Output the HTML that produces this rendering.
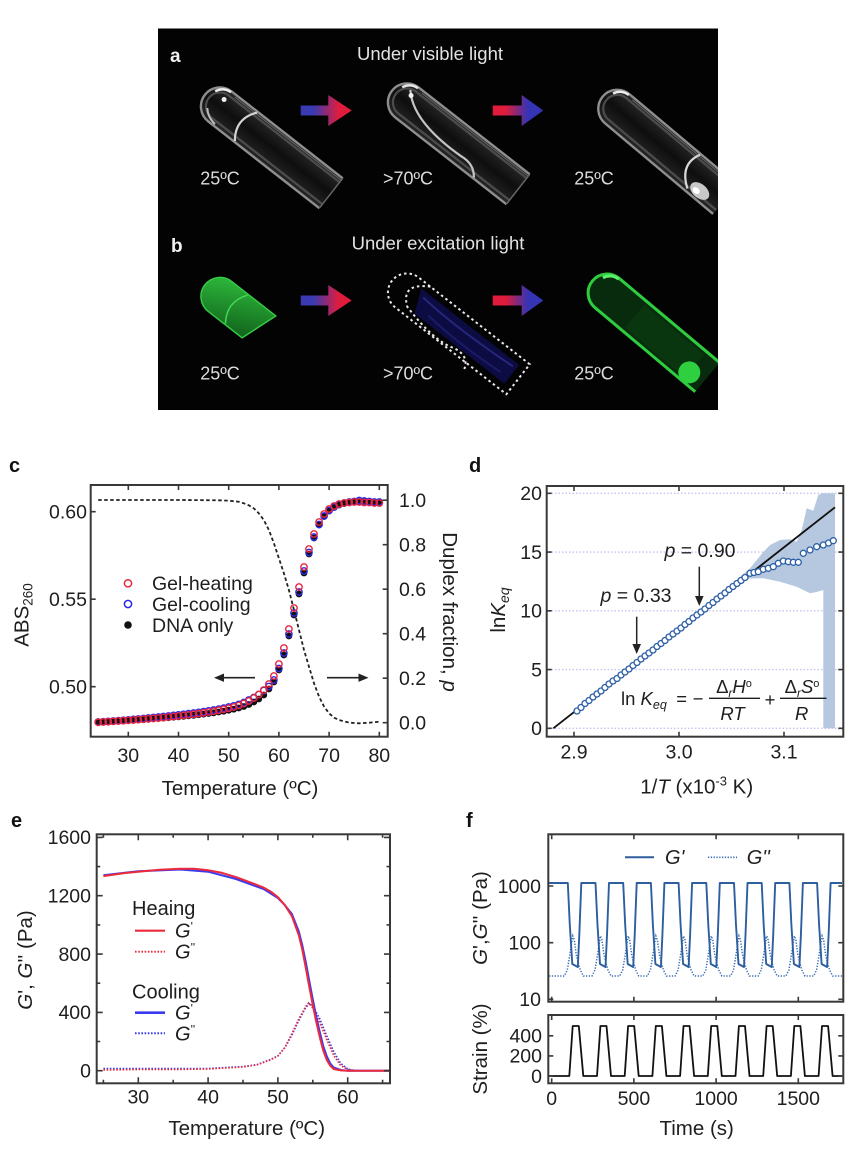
<!DOCTYPE html>
<html><head><meta charset="utf-8"><style>
html,body{margin:0;padding:0;background:#fff;}
svg{display:block;font-family:"Liberation Sans",Arial,sans-serif;}
</style></head><body>
<svg width="863" height="1157" viewBox="0 0 863 1157" xmlns="http://www.w3.org/2000/svg">
<defs>
<linearGradient id="br" x1="0" x2="1" y1="0" y2="0"><stop offset="0" stop-color="#3a3ab2"/><stop offset="0.25" stop-color="#3a3ab2"/><stop offset="0.75" stop-color="#e01c3c"/><stop offset="1" stop-color="#e01c3c"/></linearGradient>
<linearGradient id="rb" x1="0" x2="1" y1="0" y2="0"><stop offset="0" stop-color="#e01c3c"/><stop offset="0.25" stop-color="#e01c3c"/><stop offset="0.7" stop-color="#3434b4"/><stop offset="1" stop-color="#3434b4"/></linearGradient>
<linearGradient id="grn" x1="0" x2="1" y1="0" y2="1"><stop offset="0" stop-color="#2fbf3e"/><stop offset="1" stop-color="#0f5a18"/></linearGradient>
<linearGradient id="glass" x1="0" x2="0" y1="0" y2="1"><stop offset="0" stop-color="#2a2a2a"/><stop offset="0.5" stop-color="#0e0e0e"/><stop offset="1" stop-color="#262626"/></linearGradient>
<clipPath id="box"><rect x="158" y="28.5" width="560" height="381.5"/></clipPath>
</defs>

<!-- ========== Photo panel ========== -->
<rect x="158" y="28.5" width="560" height="381.5" fill="#030303"/>
<text x="170" y="62" font-size="19" font-weight="bold" fill="#f0f0f0">a</text>
<text x="430" y="60" font-size="18.5" fill="#e2e2e2" text-anchor="middle">Under visible light</text>
<text x="171" y="252" font-size="19" font-weight="bold" fill="#f0f0f0">b</text>
<text x="438" y="249.5" font-size="18.5" fill="#e2e2e2" text-anchor="middle">Under excitation light</text>

<g clip-path="url(#box)">
<!-- tube a1 -->
<g transform="translate(268,144) rotate(38)">
<path d="M80,-19H-61A19,19 0 0,0 -61,19H80" fill="url(#glass)" stroke="#8e8e8e" stroke-width="2.4"/>
<path d="M80,-14H-61A14,14 0 0,0 -61,14H80" fill="none" stroke="#4c4c4c" stroke-width="2.2"/>
<path d="M80,-16.5H-55" stroke="#6a6a6a" stroke-width="1"/>
<path d="M-28,-18Q-42,0 -28,18" fill="none" stroke="#d4d4d4" stroke-width="2.2"/>
<path d="M-74,-9A14,14 0 0,1 -61,-18" fill="none" stroke="#eee" stroke-width="2.5"/>
<circle cx="-62" cy="-8" r="2.5" fill="#eee"/>
<path d="M-70,9Q-64,16 -54,17" fill="none" stroke="#bbb" stroke-width="2"/>
<line x1="80" y1="-19" x2="80" y2="19" stroke="#666" stroke-width="1.5"/>
</g>
<!-- tube a2 -->
<g transform="translate(455,140) rotate(38)">
<path d="M80,-19H-61A19,19 0 0,0 -61,19H80" fill="url(#glass)" stroke="#8e8e8e" stroke-width="2.4"/>
<path d="M80,-14H-61A14,14 0 0,0 -61,14H80" fill="none" stroke="#4c4c4c" stroke-width="2.2"/>
<path d="M80,-16.5H-55" stroke="#6a6a6a" stroke-width="1"/>
<path d="M-66,-12Q-45,12 15,9Q30,7 38,18" fill="none" stroke="#c4c4c4" stroke-width="2.2"/>
<path d="M-74,-9A14,14 0 0,1 -61,-18" fill="none" stroke="#e6e6e6" stroke-width="2.5"/>
<circle cx="-62" cy="-8" r="2.5" fill="#eee"/>
<line x1="80" y1="-19" x2="80" y2="19" stroke="#666" stroke-width="1.5"/>
</g>
<!-- tube a3 -->
<g transform="translate(664,148) rotate(40)">
<path d="M80,-19H-61A19,19 0 0,0 -61,19H80" fill="url(#glass)" stroke="#8e8e8e" stroke-width="2.4"/>
<path d="M80,-14H-61A14,14 0 0,0 -61,14H80" fill="none" stroke="#4c4c4c" stroke-width="2.2"/>
<path d="M80,-16.5H-55" stroke="#6a6a6a" stroke-width="1"/>
<path d="M-74,-9A14,14 0 0,1 -61,-18" fill="none" stroke="#eee" stroke-width="2.5"/>
<path d="M32,-18Q22,2 44,16" fill="none" stroke="#d8d8d8" stroke-width="2.2"/>
<ellipse cx="55" cy="10" rx="11" ry="7" fill="#c8c8c8"/>
<ellipse cx="52" cy="12" rx="4" ry="3" fill="#fff"/>
</g>

<!-- tube b1 green cap -->
<g transform="translate(268,334) rotate(38)">
<path d="M-5,-19H-61A19,19 0 0,0 -61,19H-18Z" fill="url(#grn)" stroke="#35c944" stroke-width="1.5"/>
<path d="M-40,-18Q-53,0 -40,18" fill="none" stroke="#45d855" stroke-width="1.5"/>
</g>
<!-- tube b2 blue dashed -->
<g transform="translate(455,330) rotate(38)">
<path d="M-52,-12H72V12H-42Z" fill="#0c0c42"/>
<path d="M-45,-6Q0,-2 68,-7" fill="none" stroke="#26267e" stroke-width="2"/>
<path d="M-30,5Q10,9 62,5" fill="none" stroke="#1a1a66" stroke-width="2"/>
<path d="M80,-19H-61A19,19 0 0,0 -61,19H80Z" fill="none" stroke="#e8e8e8" stroke-width="2" stroke-dasharray="2.5 3"/>
<path d="M-46,-19Q-72,-4 -52,11Q-10,22 10,15Q28,11 32,27" fill="none" stroke="#e8e8e8" stroke-width="2" stroke-dasharray="2.5 3"/>
</g>
<!-- tube b3 green -->
<g transform="translate(650,329) rotate(40)">
<path d="M75,-19H-56A19,19 0 0,0 -56,19H75" fill="#072b0c" stroke="#2fcc3f" stroke-width="3"/>
<path d="M-20,-15H58V15H-20Z" fill="#0b3c11" opacity="0.7"/>
<ellipse cx="58" cy="8" rx="11" ry="11" fill="#2fd03f"/>
<path d="M-69,-9A14,14 0 0,1 -56,-18" fill="none" stroke="#5ef06c" stroke-width="3"/>
</g>
</g>

<g font-size="18" fill="#dcdcdc" text-anchor="middle">
<text x="220" y="184.5">25ºC</text><text x="408" y="184.5">&gt;70ºC</text><text x="594" y="184.5">25ºC</text>
<text x="220" y="379.5">25ºC</text><text x="408" y="379.5">&gt;70ºC</text><text x="594" y="379.5">25ºC</text>
</g>

<!-- arrows -->
<path d="M300.7,105.5H328.3V95L351.7,110.5L328.3,126V115.5H300.7Z" fill="url(#br)"/>
<path d="M492.7,105.5H521.7V95L543.3,110.5L521.7,126V115.5H492.7Z" fill="url(#rb)"/>
<path d="M300.7,295.5H328.3V285L351.7,300.5L328.3,316V305.5H300.7Z" fill="url(#br)"/>
<path d="M492.7,295.5H521.7V285L543.3,300.5L521.7,316V305.5H492.7Z" fill="url(#rb)"/>

<!-- ========== Panel c ========== -->
<text x="9" y="472" font-size="20" font-weight="bold" fill="#111">c</text>
<polyline fill="none" stroke="#222" stroke-width="1.8" stroke-dasharray="3.5 2.5" points="98.2,500 128.3,500 178.5,500 218.7,500.3 228.7,500.7 238.7,501.7 243.8,503.3 248.8,505.3 253.8,508.3 258.8,513.3 263.8,520 268.9,530 273.9,543.3 278.9,558.3 283.9,573.3 288.9,590 294,610 299,630 304,650 309,666.7 314,683.3 319.1,696.7 324.1,706.7 329.1,713.3 334.1,717.7 339.1,720 349.2,722.7 359.2,723.3 369.3,722.7 379.3,721.7"/>
<g fill="#111">
<circle cx="98.2" cy="722.5" r="3.4"/><circle cx="103.2" cy="722.2" r="3.4"/><circle cx="108.2" cy="721.9" r="3.4"/><circle cx="113.2" cy="721.6" r="3.4"/><circle cx="118.3" cy="721.3" r="3.4"/><circle cx="123.3" cy="721" r="3.4"/><circle cx="128.3" cy="720.7" r="3.4"/><circle cx="133.3" cy="720.4" r="3.4"/><circle cx="138.3" cy="720" r="3.4"/><circle cx="143.4" cy="719.7" r="3.4"/>
<circle cx="148.4" cy="719.3" r="3.4"/><circle cx="153.4" cy="718.9" r="3.4"/><circle cx="158.4" cy="718.5" r="3.4"/><circle cx="163.4" cy="718.1" r="3.4"/><circle cx="168.5" cy="717.7" r="3.4"/><circle cx="173.5" cy="717.2" r="3.4"/><circle cx="178.5" cy="716.8" r="3.4"/><circle cx="183.5" cy="716.3" r="3.4"/><circle cx="188.5" cy="715.8" r="3.4"/><circle cx="193.6" cy="715.3" r="3.4"/>
<circle cx="198.6" cy="714.7" r="3.4"/><circle cx="203.6" cy="714.1" r="3.4"/><circle cx="208.6" cy="713.5" r="3.4"/><circle cx="213.6" cy="712.8" r="3.4"/><circle cx="218.7" cy="712" r="3.4"/><circle cx="223.7" cy="711.2" r="3.4"/><circle cx="228.7" cy="710.2" r="3.4"/><circle cx="233.7" cy="709.2" r="3.4"/><circle cx="238.7" cy="708" r="3.4"/><circle cx="243.8" cy="706.5" r="3.4"/>
<circle cx="248.8" cy="704.5" r="3.4"/><circle cx="253.8" cy="702" r="3.4"/><circle cx="258.8" cy="699" r="3.4"/><circle cx="263.8" cy="695" r="3.4"/><circle cx="268.9" cy="689" r="3.4"/><circle cx="273.9" cy="682" r="3.4"/><circle cx="278.9" cy="670" r="3.4"/><circle cx="283.9" cy="655" r="3.4"/><circle cx="288.9" cy="636" r="3.4"/><circle cx="294" cy="615" r="3.4"/>
<circle cx="299" cy="594" r="3.4"/><circle cx="304" cy="573" r="3.4"/><circle cx="309" cy="554" r="3.4"/><circle cx="314" cy="538" r="3.4"/><circle cx="319.1" cy="525" r="3.4"/><circle cx="324.1" cy="516.5" r="3.4"/><circle cx="329.1" cy="511" r="3.4"/><circle cx="334.1" cy="507.5" r="3.4"/><circle cx="339.1" cy="505" r="3.4"/><circle cx="344.2" cy="503.5" r="3.4"/>
<circle cx="349.2" cy="502.5" r="3.4"/><circle cx="354.2" cy="502" r="3.4"/><circle cx="359.2" cy="501.5" r="3.4"/><circle cx="364.2" cy="501.5" r="3.4"/><circle cx="369.3" cy="502" r="3.4"/><circle cx="374.3" cy="502" r="3.4"/><circle cx="379.3" cy="502" r="3.4"/>
</g>
<g fill="none" stroke="#2a2ae6" stroke-width="1.3">
<circle cx="98.2" cy="722" r="3.2"/><circle cx="103.2" cy="721.7" r="3.2"/><circle cx="108.2" cy="721.3" r="3.2"/><circle cx="113.2" cy="721" r="3.2"/><circle cx="118.3" cy="720.6" r="3.2"/><circle cx="123.3" cy="720.2" r="3.2"/><circle cx="128.3" cy="719.8" r="3.2"/><circle cx="133.3" cy="719.4" r="3.2"/><circle cx="138.3" cy="719" r="3.2"/><circle cx="143.4" cy="718.5" r="3.2"/>
<circle cx="148.4" cy="718" r="3.2"/><circle cx="153.4" cy="717.5" r="3.2"/><circle cx="158.4" cy="717" r="3.2"/><circle cx="163.4" cy="716.5" r="3.2"/><circle cx="168.5" cy="716" r="3.2"/><circle cx="173.5" cy="715.4" r="3.2"/><circle cx="178.5" cy="714.8" r="3.2"/><circle cx="183.5" cy="714.2" r="3.2"/><circle cx="188.5" cy="713.6" r="3.2"/><circle cx="193.6" cy="713" r="3.2"/>
<circle cx="198.6" cy="712.3" r="3.2"/><circle cx="203.6" cy="711.6" r="3.2"/><circle cx="208.6" cy="710.8" r="3.2"/><circle cx="213.6" cy="710" r="3.2"/><circle cx="218.7" cy="709.1" r="3.2"/><circle cx="223.7" cy="708.1" r="3.2"/><circle cx="228.7" cy="707" r="3.2"/><circle cx="233.7" cy="705.8" r="3.2"/><circle cx="238.7" cy="704.3" r="3.2"/><circle cx="243.8" cy="702.5" r="3.2"/>
<circle cx="248.8" cy="700" r="3.2"/><circle cx="253.8" cy="697.5" r="3.2"/><circle cx="258.8" cy="694.5" r="3.2"/><circle cx="263.8" cy="690.5" r="3.2"/><circle cx="268.9" cy="686.5" r="3.2"/><circle cx="273.9" cy="680" r="3.2"/><circle cx="278.9" cy="668.5" r="3.2"/><circle cx="283.9" cy="653" r="3.2"/><circle cx="288.9" cy="634" r="3.2"/><circle cx="294" cy="613" r="3.2"/>
<circle cx="299" cy="592" r="3.2"/><circle cx="304" cy="571" r="3.2"/><circle cx="309" cy="552.5" r="3.2"/><circle cx="314" cy="537" r="3.2"/><circle cx="319.1" cy="524.5" r="3.2"/><circle cx="324.1" cy="516" r="3.2"/><circle cx="329.1" cy="510.5" r="3.2"/><circle cx="334.1" cy="507" r="3.2"/><circle cx="339.1" cy="504.5" r="3.2"/><circle cx="344.2" cy="503" r="3.2"/>
<circle cx="349.2" cy="502" r="3.2"/><circle cx="354.2" cy="501.5" r="3.2"/><circle cx="359.2" cy="500.5" r="3.2"/><circle cx="364.2" cy="501" r="3.2"/><circle cx="369.3" cy="501.5" r="3.2"/><circle cx="374.3" cy="502" r="3.2"/><circle cx="379.3" cy="502" r="3.2"/>
</g>
<g fill="none" stroke="#e8243c" stroke-width="1.4">
<circle cx="98.2" cy="722.3" r="3.2"/><circle cx="103.2" cy="722" r="3.2"/><circle cx="108.2" cy="721.7" r="3.2"/><circle cx="113.2" cy="721.4" r="3.2"/><circle cx="118.3" cy="721" r="3.2"/><circle cx="123.3" cy="720.7" r="3.2"/><circle cx="128.3" cy="720.3" r="3.2"/><circle cx="133.3" cy="720" r="3.2"/><circle cx="138.3" cy="719.6" r="3.2"/><circle cx="143.4" cy="719.2" r="3.2"/>
<circle cx="148.4" cy="718.8" r="3.2"/><circle cx="153.4" cy="718.4" r="3.2"/><circle cx="158.4" cy="718" r="3.2"/><circle cx="163.4" cy="717.5" r="3.2"/><circle cx="168.5" cy="717" r="3.2"/><circle cx="173.5" cy="716.5" r="3.2"/><circle cx="178.5" cy="716" r="3.2"/><circle cx="183.5" cy="715.4" r="3.2"/><circle cx="188.5" cy="714.8" r="3.2"/><circle cx="193.6" cy="714.2" r="3.2"/>
<circle cx="198.6" cy="713.5" r="3.2"/><circle cx="203.6" cy="712.8" r="3.2"/><circle cx="208.6" cy="712" r="3.2"/><circle cx="213.6" cy="711.2" r="3.2"/><circle cx="218.7" cy="710.3" r="3.2"/><circle cx="223.7" cy="709.3" r="3.2"/><circle cx="228.7" cy="708.2" r="3.2"/><circle cx="233.7" cy="707" r="3.2"/><circle cx="238.7" cy="705.5" r="3.2"/><circle cx="243.8" cy="703.5" r="3.2"/>
<circle cx="248.8" cy="701" r="3.2"/><circle cx="253.8" cy="698" r="3.2"/><circle cx="258.8" cy="694.5" r="3.2"/><circle cx="263.8" cy="690" r="3.2"/><circle cx="268.9" cy="684" r="3.2"/><circle cx="273.9" cy="676" r="3.2"/><circle cx="278.9" cy="664" r="3.2"/><circle cx="283.9" cy="648" r="3.2"/><circle cx="288.9" cy="629" r="3.2"/><circle cx="294" cy="608" r="3.2"/>
<circle cx="299" cy="587" r="3.2"/><circle cx="304" cy="567" r="3.2"/><circle cx="309" cy="549" r="3.2"/><circle cx="314" cy="534" r="3.2"/><circle cx="319.1" cy="522" r="3.2"/><circle cx="324.1" cy="514" r="3.2"/><circle cx="329.1" cy="509" r="3.2"/><circle cx="334.1" cy="506" r="3.2"/><circle cx="339.1" cy="504" r="3.2"/><circle cx="344.2" cy="503" r="3.2"/>
<circle cx="349.2" cy="502.5" r="3.2"/><circle cx="354.2" cy="502" r="3.2"/><circle cx="359.2" cy="502" r="3.2"/><circle cx="364.2" cy="502.5" r="3.2"/><circle cx="369.3" cy="502.5" r="3.2"/><circle cx="374.3" cy="503" r="3.2"/><circle cx="379.3" cy="503" r="3.2"/>
</g>
<!-- legend c -->
<circle cx="128" cy="583.3" r="3.6" fill="none" stroke="#e8243c" stroke-width="1.5"/>
<circle cx="128" cy="604" r="3.6" fill="none" stroke="#2a2ae6" stroke-width="1.5"/>
<circle cx="128" cy="625" r="3.8" fill="#111"/>
<g font-size="19.5" fill="#1e1e1e">
<text x="152" y="590">Gel-heating</text><text x="152" y="611">Gel-cooling</text><text x="152" y="632">DNA only</text>
</g>
<!-- arrows c -->
<line x1="255" y1="677.7" x2="222" y2="677.7" stroke="#222" stroke-width="1.6"/>
<polygon points="214,677.7 224,673.5 224,681.9" fill="#222"/>
<line x1="327" y1="677.7" x2="360" y2="677.7" stroke="#222" stroke-width="1.6"/>
<polygon points="368.5,677.7 358.5,673.5 358.5,681.9" fill="#222"/>
<!-- frame c -->
<rect x="90.7" y="485" width="297" height="251.7" fill="none" stroke="#383838" stroke-width="2"/>
<g stroke="#383838" stroke-width="1.6">
<path d="M128.3,736.7v-5M178.5,736.7v-5M228.7,736.7v-5M278.9,736.7v-5M329.1,736.7v-5M379.3,736.7v-5"/>
<path d="M128.3,485v5M178.5,485v5M228.7,485v5M278.9,485v5M329.1,485v5M379.3,485v5"/>
<path d="M90.7,511.7h5M90.7,599.2h5M90.7,686.7h5"/>
<path d="M387.7,722.7h-5M387.7,678.2h-5M387.7,633.7h-5M387.7,589.2h-5M387.7,544.7h-5M387.7,500.2h-5"/>
</g>
<g font-size="19.5" fill="#1e1e1e">
<g text-anchor="end"><text x="87" y="518.5">0.60</text><text x="87" y="606">0.55</text><text x="87" y="693.5">0.50</text></g>
<text x="399" y="507">1.0</text><text x="399" y="551.5">0.8</text><text x="399" y="596">0.6</text><text x="399" y="640.5">0.4</text><text x="399" y="685">0.2</text><text x="399" y="729.5">0.0</text>
<g text-anchor="middle"><text x="128.3" y="762">30</text><text x="178.5" y="762">40</text><text x="228.7" y="762">50</text><text x="278.9" y="762">60</text><text x="329.1" y="762">70</text><text x="379.3" y="762">80</text></g>
</g>
<text x="240" y="795" font-size="20.5" fill="#1e1e1e" text-anchor="middle">Temperature (ºC)</text>
<text x="28.7" y="615" font-size="20.5" fill="#1e1e1e" text-anchor="middle" transform="rotate(-90 28.7 615)">ABS<tspan font-size="13.5" dy="4">260</tspan></text>

<!-- ========== Panel d ========== -->
<text x="469" y="472" font-size="20" font-weight="bold" fill="#111">d</text>
<g stroke="#c4c4f0" stroke-width="1.3" stroke-dasharray="1.5 2">
<path d="M548,728.3H842M548,669.55H842M548,610.8H842M548,552.05H842M548,493.3H842"/>
</g>
<polygon fill="#b6c8e0" points="700,611.5 720,595.5 740,577 750,568.3 763.3,552 770,545 780,540 790,539.3 796.7,541.7 801.7,530 806.7,508.3 813.3,510.7 818.3,495 821.7,493.3 835,493.3 835,728.3 823.3,728.3 823.3,590 816.7,592 810,593.3 796.7,586.7 780,581.7 763.3,578.3 750,578.5 740,582 720,599 700,614.5"/>
<line x1="553.3" y1="728.3" x2="835" y2="507.3" stroke="#111" stroke-width="1.8"/>
<g fill="#fff" stroke="#2b5ea5" stroke-width="1.3">
<circle cx="577" cy="711" r="3"/><circle cx="581" cy="707.5" r="3"/><circle cx="585" cy="703.5" r="3"/><circle cx="589" cy="700.5" r="3"/><circle cx="593" cy="697" r="3"/><circle cx="597" cy="694" r="3"/><circle cx="601" cy="691" r="3"/><circle cx="605" cy="687.5" r="3"/><circle cx="609" cy="684" r="3"/><circle cx="613" cy="681" r="3"/>
<circle cx="617" cy="678.5" r="3"/><circle cx="621" cy="675" r="3"/><circle cx="625" cy="672" r="3"/><circle cx="629" cy="669" r="3"/><circle cx="633" cy="665.5" r="3"/><circle cx="637" cy="662.5" r="3"/><circle cx="641" cy="659" r="3"/><circle cx="645" cy="656" r="3"/><circle cx="649" cy="653" r="3"/><circle cx="653" cy="650" r="3"/>
<circle cx="657" cy="646.5" r="3"/><circle cx="661" cy="643.5" r="3"/><circle cx="665" cy="640.5" r="3"/><circle cx="669" cy="637" r="3"/><circle cx="673" cy="634" r="3"/><circle cx="677" cy="631" r="3"/><circle cx="681" cy="628" r="3"/><circle cx="685" cy="624.5" r="3"/><circle cx="689" cy="621.5" r="3"/><circle cx="693" cy="618" r="3"/>
<circle cx="697" cy="615" r="3"/><circle cx="701" cy="612" r="3"/><circle cx="705" cy="609" r="3"/><circle cx="709" cy="605.5" r="3"/><circle cx="713" cy="602.5" r="3"/><circle cx="717" cy="599" r="3"/><circle cx="721" cy="596" r="3"/><circle cx="725" cy="593" r="3"/><circle cx="729" cy="589.5" r="3"/><circle cx="733" cy="586.5" r="3"/>
<circle cx="737" cy="583.5" r="3"/><circle cx="741" cy="580.5" r="3"/><circle cx="745" cy="577.5" r="3"/><circle cx="750" cy="573.3" r="3"/><circle cx="754" cy="572.5" r="3"/><circle cx="758.3" cy="571.7" r="3"/><circle cx="763.3" cy="569.3" r="3"/><circle cx="768.3" cy="568.3" r="3"/><circle cx="773.3" cy="566.7" r="3"/><circle cx="778.3" cy="563.3" r="3"/>
<circle cx="783.3" cy="561" r="3"/><circle cx="788.3" cy="561.7" r="3"/><circle cx="793.3" cy="562.3" r="3"/><circle cx="798.3" cy="562.3" r="3"/><circle cx="803.3" cy="553.3" r="3"/><circle cx="810" cy="550" r="3"/><circle cx="816.7" cy="546.7" r="3"/><circle cx="823.3" cy="545" r="3"/><circle cx="828.5" cy="543" r="3"/><circle cx="833.3" cy="540.7" r="3"/>
</g>
<!-- annotations d -->
<g font-size="19.5" fill="#1e1e1e" text-anchor="middle">
<text x="700" y="557"><tspan font-style="italic">p</tspan> = 0.90</text>
<text x="636" y="602"><tspan font-style="italic">p</tspan> = 0.33</text>
</g>
<line x1="699.3" y1="566.7" x2="699.3" y2="598" stroke="#222" stroke-width="1.5"/>
<polygon points="699.3,606 695,596 703.6,596" fill="#222"/>
<line x1="636.7" y1="616.7" x2="636.7" y2="645" stroke="#222" stroke-width="1.5"/>
<polygon points="636.7,654 632.4,644 641,644" fill="#222"/>
<!-- equation -->
<g font-size="18.5" fill="#1e1e1e">
<text x="621" y="705">ln <tspan font-style="italic">K</tspan><tspan font-style="italic" font-size="12.5" dy="4">eq</tspan></text>
<text x="681.7" y="705" text-anchor="middle">=</text>
<text x="698" y="705" text-anchor="middle">−</text>
<text x="734" y="693" text-anchor="middle">Δ<tspan font-style="italic" font-size="12" dy="4">r</tspan><tspan font-style="italic" dy="-4">H</tspan><tspan font-size="11" dy="-6">o</tspan></text>
<text x="732.5" y="720" text-anchor="middle" font-style="italic">RT</text>
<text x="770" y="706" text-anchor="middle">+</text>
<text x="802" y="693" text-anchor="middle">Δ<tspan font-style="italic" font-size="12" dy="4">r</tspan><tspan font-style="italic" dy="-4">S</tspan><tspan font-size="11" dy="-6">o</tspan></text>
<text x="801.7" y="720" text-anchor="middle" font-style="italic">R</text>
</g>
<line x1="709" y1="698.3" x2="760" y2="698.3" stroke="#1e1e1e" stroke-width="1.3"/>
<line x1="780" y1="698.3" x2="826.5" y2="698.3" stroke="#1e1e1e" stroke-width="1.3"/>
<!-- frame d -->
<rect x="546.7" y="486" width="296.6" height="250.7" fill="none" stroke="#383838" stroke-width="2"/>
<g stroke="#383838" stroke-width="1.6">
<path d="M574,736.7v-5M679,736.7v-5M784,736.7v-5M574,486v5M679,486v5M784,486v5"/>
<path d="M546.7,728.3h5M546.7,669.55h5M546.7,610.8h5M546.7,552.05h5M546.7,493.3h5"/>
<path d="M843.3,728.3h-5M843.3,669.55h-5M843.3,610.8h-5M843.3,552.05h-5M843.3,493.3h-5"/>
</g>
<g font-size="19.5" fill="#1e1e1e">
<g text-anchor="end"><text x="542" y="500">20</text><text x="542" y="558.9">15</text><text x="542" y="617.6">10</text><text x="542" y="676.4">5</text><text x="542" y="735.1">0</text></g>
<g text-anchor="middle"><text x="574" y="758.5">2.9</text><text x="679" y="758.5">3.0</text><text x="784" y="758.5">3.1</text></g>
</g>
<text x="696.7" y="793.5" font-size="20.5" fill="#1e1e1e" text-anchor="middle">1/<tspan font-style="italic">T</tspan> (x10<tspan font-size="13" dy="-8">-3</tspan><tspan dy="8"> K)</tspan></text>
<text x="505" y="610" font-size="20.5" fill="#1e1e1e" text-anchor="middle" transform="rotate(-90 505 610)">ln<tspan font-style="italic">K</tspan><tspan font-style="italic" font-size="14" dy="4">eq</tspan></text>
<text x="443" y="612" font-size="20.5" fill="#1e1e1e" text-anchor="middle" transform="rotate(90 443 612)">Duplex fraction, <tspan font-style="italic">p</tspan></text>

<!-- ========== Panel e ========== -->
<text x="11" y="827" font-size="20" font-weight="bold" fill="#111">e</text>
<g fill="none" stroke-width="1.6" stroke-dasharray="1.6 1.6">
<polyline stroke="#3a3af0" points="103.4,1068.5 138.3,1068.5 208.1,1068.5 243,1066.6 257,1064.6 270.9,1059.3 277.9,1055.8 284.9,1047.7 291.9,1035 298.8,1020.4 305.8,1007.3 310,1003.3 312.8,1005.8 319.8,1018.9 326.7,1035.7 333.7,1051.7 340.7,1063.4 347.7,1069 354.6,1070.4 361.6,1070.7 389.6,1070.7"/>
<polyline stroke="#ec2a3c" points="103.4,1070 138.3,1069.5 173.2,1069.5 208.1,1069 243,1067 257,1064.9 270.9,1059.8 277.9,1056.1 284.9,1047.4 291.9,1033.5 298.8,1018.9 305.8,1006.5 308.6,1002.9 312.8,1008 319.8,1022.6 326.7,1039.4 333.7,1055.4 340.7,1065.6 347.7,1069.5 354.6,1070.7 389.6,1070.7"/>
</g>
<polyline fill="none" stroke="#3a3af0" stroke-width="2" stroke-linejoin="round" points="103.4,875.3 138.3,871.2 180.2,869.5 208.1,871.7 236,879 263.9,889.2 277.9,898 284.9,905.2 291.9,914 298.8,931.5 302.3,945.3 305.8,962.1 309.3,981 312.8,999.3 316.3,1016.8 319.8,1032.1 323.2,1045.9 326.7,1056.1 330.2,1063.4 333.7,1067.5 340.7,1070 347.7,1070.7 389.6,1070.7"/>
<polyline fill="none" stroke="#ec2a3c" stroke-width="2" stroke-linejoin="round" points="103.4,876.1 124.3,873.1 138.3,871.7 159.2,869.8 180.2,868.8 194.1,868.8 208.1,870.2 222.1,872.9 236,877.1 250,882.3 263.9,887.7 270.9,891.7 277.9,897.2 284.9,905.2 291.9,916.2 298.8,935.1 302.3,949.7 305.8,967.9 309.3,986.9 312.8,1005.1 316.3,1021.9 319.8,1037.2 323.2,1050.3 326.7,1059.8 330.2,1065.6 333.7,1069 340.7,1070.4 347.7,1070.7 389.6,1070.7"/>
<!-- legend e -->
<g font-size="20" fill="#1e1e1e">
<text x="132" y="915">Heaing</text>
<text x="132" y="998.7">Cooling</text>
<text x="175" y="937.7" font-style="italic">G<tspan font-size="12" dy="-7" font-style="normal">'</tspan></text>
<text x="175" y="958.7" font-style="italic">G<tspan font-size="12" dy="-7" font-style="normal">''</tspan></text>
<text x="175" y="1019.7" font-style="italic">G<tspan font-size="12" dy="-7" font-style="normal">'</tspan></text>
<text x="175" y="1040.3" font-style="italic">G<tspan font-size="12" dy="-7" font-style="normal">''</tspan></text>
</g>
<line x1="135" y1="930.7" x2="165" y2="930.7" stroke="#ec2a3c" stroke-width="2.2"/>
<line x1="135" y1="951.7" x2="165" y2="951.7" stroke="#ec2a3c" stroke-width="1.8" stroke-dasharray="1.6 1.6"/>
<line x1="135" y1="1012.7" x2="165" y2="1012.7" stroke="#3a3af0" stroke-width="2.6"/>
<line x1="135" y1="1033.3" x2="165" y2="1033.3" stroke="#3a3af0" stroke-width="2" stroke-dasharray="1.6 1.6"/>
<!-- frame e -->
<rect x="96.7" y="834.3" width="293.3" height="249" fill="none" stroke="#383838" stroke-width="2"/>
<g stroke="#383838" stroke-width="1.6">
<path d="M138.3,1083.3v-6M208.1,1083.3v-6M277.9,1083.3v-6M347.7,1083.3v-6M103.4,1083.3v-3.5M173.2,1083.3v-3.5M243,1083.3v-3.5M312.8,1083.3v-3.5M382.6,1083.3v-3.5"/>
<path d="M138.3,834.3v6M208.1,834.3v6M277.9,834.3v6M347.7,834.3v6M103.4,834.3v3.5M173.2,834.3v3.5M243,834.3v3.5M312.8,834.3v3.5M382.6,834.3v3.5"/>
<path d="M96.7,1070.7h6M96.7,1012.4h6M96.7,954.1h6M96.7,895.7h6M96.7,837.4h6M96.7,1041.5h3.5M96.7,983.2h3.5M96.7,924.9h3.5M96.7,866.6h3.5"/>
<path d="M390,1070.7h-6M390,1012.4h-6M390,954.1h-6M390,895.7h-6M390,837.4h-6M390,1041.5h-3.5M390,983.2h-3.5M390,924.9h-3.5M390,866.6h-3.5"/>
</g>
<g font-size="19.5" fill="#1e1e1e">
<g text-anchor="end"><text x="91" y="844.2">1600</text><text x="91" y="902.5">1200</text><text x="91" y="960.9">800</text><text x="91" y="1019.2">400</text><text x="91" y="1077.5">0</text></g>
<g text-anchor="middle"><text x="138.3" y="1103.5">30</text><text x="208.1" y="1103.5">40</text><text x="277.9" y="1103.5">50</text><text x="347.7" y="1103.5">60</text></g>
</g>
<text x="246.7" y="1135" font-size="20.5" fill="#1e1e1e" text-anchor="middle">Temperature (ºC)</text>
<text x="32" y="960" font-size="20.5" fill="#1e1e1e" text-anchor="middle" transform="rotate(-90 32 960)"><tspan font-style="italic">G</tspan>', <tspan font-style="italic">G</tspan>'' (Pa)</text>

<!-- ========== Panel f ========== -->
<text x="466" y="827" font-size="20" font-weight="bold" fill="#111">f</text>
<polyline fill="none" stroke="#3c6eb2" stroke-width="1.5" stroke-dasharray="1.3 1.5" points="549,976 564.3,976 567.3,970 569.3,958 571.3,945 572.8,936 574.3,940 576.3,955 578.3,963 580.3,970 583.3,976 592,976 595,970 597,958 599,945 600.5,936 602,940 604,955 606,963 608,970 611,976 619.7,976 622.7,970 624.7,958 626.7,945 628.2,936 629.7,940 631.7,955 633.7,963 635.7,970 638.7,976 647.4,976 650.4,970 652.4,958 654.4,945 655.9,936 657.4,940 659.4,955 661.4,963 663.4,970 666.4,976 675.1,976 678.1,970 680.1,958 682.1,945 683.6,936 685.1,940 687.1,955 689.1,963 691.1,970 694.1,976 702.8,976 705.8,970 707.8,958 709.8,945 711.3,936 712.8,940 714.8,955 716.8,963 718.8,970 721.8,976 730.5,976 733.5,970 735.5,958 737.5,945 739,936 740.5,940 742.5,955 744.5,963 746.5,970 749.5,976 758.2,976 761.2,970 763.2,958 765.2,945 766.7,936 768.2,940 770.2,955 772.2,963 774.2,970 777.2,976 785.9,976 788.9,970 790.9,958 792.9,945 794.4,936 795.9,940 797.9,955 799.9,963 801.9,970 804.9,976 813.6,976 816.6,970 818.6,958 820.6,945 822.1,936 823.6,940 825.6,955 827.6,963 829.6,970 832.6,976 842,976"/>
<polyline fill="none" stroke="#2d5e9e" stroke-width="1.9" stroke-linejoin="round" points="549,883 567.8,883 569.8,925 572.3,964 577.8,967 579.3,935 581.3,883 595.5,883 597.5,925 600,964 605.5,967 607,935 609,883 623.2,883 625.2,925 627.7,964 633.2,967 634.7,935 636.7,883 650.9,883 652.9,925 655.4,964 660.9,967 662.4,935 664.4,883 678.6,883 680.6,925 683.1,964 688.6,967 690.1,935 692.1,883 706.3,883 708.3,925 710.8,964 716.3,967 717.8,935 719.8,883 734,883 736,925 738.5,964 744,967 745.5,935 747.5,883 761.7,883 763.7,925 766.2,964 771.7,967 773.2,935 775.2,883 789.4,883 791.4,925 793.9,964 799.4,967 800.9,935 802.9,883 817.1,883 819.1,925 821.6,964 827.1,967 828.6,935 830.6,883 842,883"/>
<!-- legend f -->
<line x1="625" y1="857.3" x2="654" y2="857.3" stroke="#2d5e9e" stroke-width="2"/>
<line x1="708" y1="857.3" x2="737" y2="857.3" stroke="#3c6eb2" stroke-width="1.6" stroke-dasharray="1.3 1.5"/>
<g font-size="20" fill="#1e1e1e" font-style="italic">
<text x="665" y="864">G'</text><text x="746.7" y="864">G''</text>
</g>
<!-- strain -->
<polyline fill="none" stroke="#111" stroke-width="1.8" stroke-linejoin="round" points="549,1076 569.3,1076 572.7,1026 578.8,1026 583.3,1076 597,1076 600.4,1026 606.5,1026 611,1076 624.7,1076 628.1,1026 634.2,1026 638.7,1076 652.4,1076 655.8,1026 661.9,1026 666.4,1076 680.1,1076 683.5,1026 689.6,1026 694.1,1076 707.8,1076 711.2,1026 717.3,1026 721.8,1076 735.5,1076 738.9,1026 745,1026 749.5,1076 763.2,1076 766.6,1026 772.7,1026 777.2,1076 790.9,1076 794.3,1026 800.4,1026 804.9,1076 818.6,1076 822,1026 828.1,1026 832.6,1076 842,1076"/>
<!-- frames f -->
<rect x="548.3" y="834.3" width="295" height="167.4" fill="none" stroke="#383838" stroke-width="2"/>
<rect x="548.3" y="1015" width="295" height="68.3" fill="none" stroke="#383838" stroke-width="2"/>
<g stroke="#383838" stroke-width="1.6">
<path d="M551.7,1001.7v-5M633.9,1001.7v-5M716.1,1001.7v-5M798.3,1001.7v-5M551.7,834.3v5M633.9,834.3v5M716.1,834.3v5M798.3,834.3v5"/>
<path d="M548.3,886h5M548.3,942.65h5M548.3,999.3h5M843.3,886h-5M843.3,942.65h-5M843.3,999.3h-5"/>
<path d="M551.7,1083.3v-5M633.9,1083.3v-5M716.1,1083.3v-5M798.3,1083.3v-5M551.7,1015v5M633.9,1015v5M716.1,1015v5M798.3,1015v5"/>
<path d="M548.3,1076h5M548.3,1055.9h5M548.3,1035.8h5M843.3,1076h-5M843.3,1055.9h-5M843.3,1035.8h-5"/>
</g>
<g font-size="19.5" fill="#1e1e1e">
<g text-anchor="end"><text x="541" y="892.8">1000</text><text x="541" y="949.5">100</text><text x="541" y="1006">10</text>
<text x="542" y="1042.6">400</text><text x="542" y="1062.7">200</text><text x="542" y="1082.8">0</text></g>
<g text-anchor="middle"><text x="551.7" y="1105">0</text><text x="633.9" y="1105">500</text><text x="716.1" y="1105">1000</text><text x="798.3" y="1105">1500</text></g>
</g>
<text x="696.7" y="1135" font-size="20.5" fill="#1e1e1e" text-anchor="middle">Time (s)</text>
<text x="487" y="918" font-size="20.5" fill="#1e1e1e" text-anchor="middle" transform="rotate(-90 487 918)"><tspan font-style="italic">G</tspan>',<tspan font-style="italic">G</tspan>'' (Pa)</text>
<text x="487" y="1049" font-size="20.5" fill="#1e1e1e" text-anchor="middle" transform="rotate(-90 487 1049)">Strain (%)</text>
</svg>
</body></html>
